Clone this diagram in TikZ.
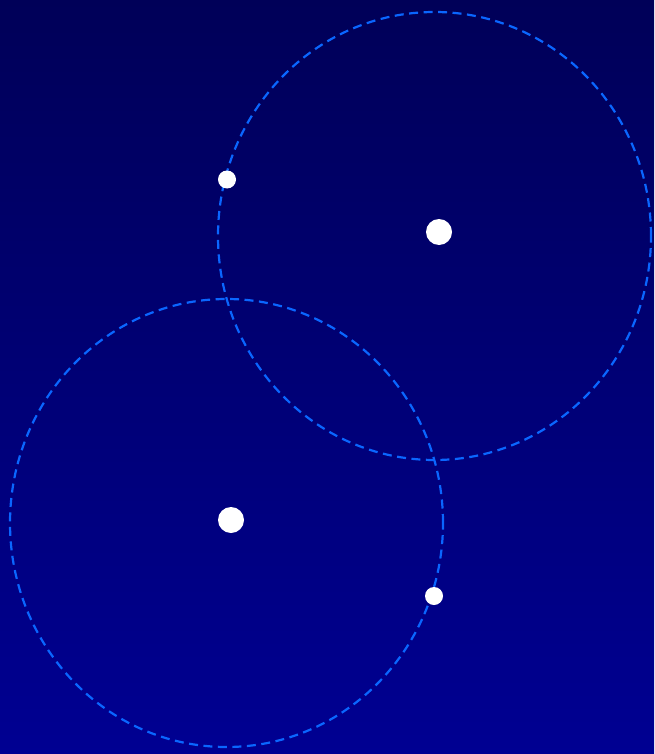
\documentclass[tikz,border=0pt]{standalone}
\usetikzlibrary{shapes.geometric}
\definecolor{navytop}{HTML}{000058}
\definecolor{navybottom}{HTML}{000092}
\definecolor{orbitblue}{HTML}{0A66FF}
\tikzset{
    orbit/.style={draw=orbitblue, line width=2.2pt, dash pattern=on 9pt off 5.5pt, ellipse,
        minimum width=433pt, minimum height=448pt, inner sep=0pt},
    bigdot/.style={circle, fill=white, minimum size=26pt, inner sep=0pt},
    smalldot/.style={circle, fill=white, minimum size=18pt, inner sep=0pt}
}
\begin{document}
\begin{tikzpicture}[x=1pt, y=-1pt]
    % Background
    \shade[top color=navytop, bottom color=navybottom] (0,0) rectangle (654,754);
    \useasboundingbox (0,0) rectangle (654,754);

    % Orbits
    \node[orbit] (orbitA) at (434.5,236) {};
    \node[orbit] (orbitB) at (226.5,523) {};

    % Dots
    \node[bigdot] (centreA) at (439,232) {};
    \node[bigdot] (centreB) at (231,520) {};
    \node[smalldot] (moonA) at (227,179.5) {};
    \node[smalldot] (moonB) at (434,596) {};
\end{tikzpicture}
\end{document}
